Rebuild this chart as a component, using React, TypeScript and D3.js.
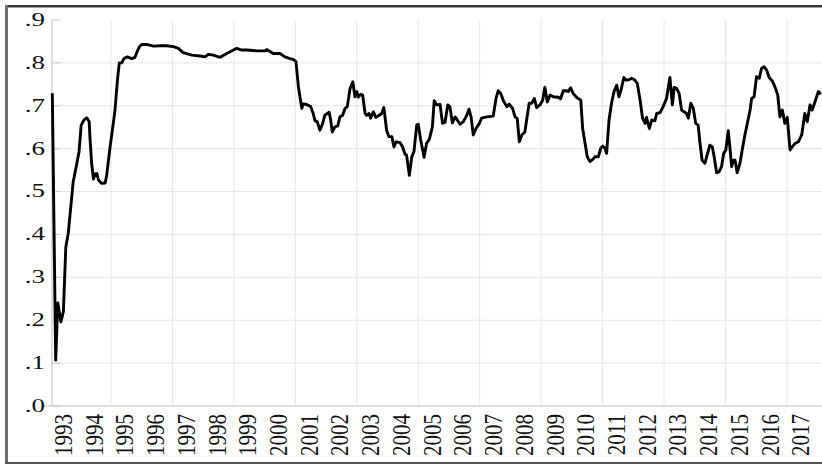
import React from "react";
import * as d3 from "d3";

// Decimal-year dates and values
const dates: number[] = [
  1993.09, 1993.2, 1993.27, 1993.37, 1993.45, 1993.53, 1993.61, 1993.77, 1993.89, 1993.96,
  1994.03, 1994.12, 1994.21, 1994.29, 1994.32, 1994.37, 1994.43, 1994.48, 1994.54, 1994.59,
  1994.7, 1994.81, 1994.86, 1994.97, 1995.06, 1995.13, 1995.21, 1995.27, 1995.35, 1995.42,
  1995.53, 1995.67, 1995.78, 1995.85, 1995.93, 1996.0, 1996.16, 1996.38, 1996.6, 1996.81,
  1997.03, 1997.19, 1997.35, 1997.63, 1997.9, 1998.06, 1998.17, 1998.33, 1998.55, 1998.77,
  1999.09, 1999.25, 1999.42, 1999.74, 2000.01, 2000.07, 2000.28, 2000.5, 2000.66, 2000.83,
  2000.93, 2001.02, 2001.1, 2001.21, 2001.26, 2001.37, 2001.5, 2001.58, 2001.64, 2001.71,
  2001.8, 2001.89, 2001.96, 2002.1, 2002.15, 2002.2, 2002.29, 2002.38, 2002.45, 2002.54,
  2002.62, 2002.69, 2002.78, 2002.87, 2002.94, 2003.0, 2003.05, 2003.13, 2003.19, 2003.27,
  2003.32, 2003.4, 2003.45, 2003.54, 2003.62, 2003.73, 2003.81, 2003.88, 2003.97, 2004.05,
  2004.14, 2004.21, 2004.28, 2004.41, 2004.49, 2004.57, 2004.62, 2004.71, 2004.79, 2004.86,
  2004.95, 2005.0, 2005.08, 2005.19, 2005.27, 2005.36, 2005.46, 2005.52, 2005.6, 2005.71,
  2005.79, 2005.87, 2005.96, 2006.03, 2006.11, 2006.2, 2006.27, 2006.36, 2006.47, 2006.58,
  2006.65, 2006.72, 2006.79, 2006.88, 2006.99, 2007.06, 2007.23, 2007.44, 2007.53, 2007.6,
  2007.68, 2007.77, 2007.88, 2007.96, 2008.07, 2008.15, 2008.22, 2008.29, 2008.37, 2008.47,
  2008.55, 2008.61, 2008.69, 2008.78, 2008.85, 2008.96, 2009.05, 2009.12, 2009.2, 2009.29,
  2009.39, 2009.56, 2009.63, 2009.72, 2009.83, 2009.88, 2009.96, 2010.04, 2010.15, 2010.29,
  2010.35, 2010.43, 2010.5, 2010.59, 2010.68, 2010.75, 2010.86, 2010.94, 2011.0, 2011.08,
  2011.13, 2011.21, 2011.29, 2011.37, 2011.46, 2011.53, 2011.6, 2011.69, 2011.76, 2011.83,
  2011.95, 2012.05, 2012.13, 2012.22, 2012.3, 2012.38, 2012.43, 2012.52, 2012.6, 2012.7,
  2012.76, 2012.87, 2012.97, 2013.08, 2013.19, 2013.27, 2013.33, 2013.41, 2013.49, 2013.57,
  2013.65, 2013.73, 2013.79, 2013.87, 2013.95, 2014.03, 2014.11, 2014.17, 2014.24, 2014.33,
  2014.4, 2014.49, 2014.57, 2014.63, 2014.71, 2014.79, 2014.87, 2014.94, 2015.01, 2015.09,
  2015.14, 2015.2, 2015.25, 2015.31, 2015.38, 2015.47, 2015.56, 2015.63, 2015.71, 2015.8,
  2015.85, 2015.93, 2016.01, 2016.1, 2016.17, 2016.25, 2016.34, 2016.42, 2016.52, 2016.61,
  2016.7, 2016.77, 2016.85, 2016.93, 2017.01, 2017.1, 2017.17, 2017.26, 2017.37, 2017.48,
  2017.58, 2017.66, 2017.75, 2017.82, 2017.91, 2018.02, 2018.1,
];

const values: number[] = [
  0.729, 0.107, 0.24, 0.196, 0.22, 0.371, 0.403, 0.523, 0.566, 0.593,
  0.655, 0.667, 0.672, 0.663, 0.62, 0.566, 0.529, 0.541, 0.542, 0.527,
  0.519, 0.52, 0.538, 0.604, 0.651, 0.69, 0.76, 0.8, 0.8, 0.81,
  0.814, 0.81, 0.813, 0.826, 0.838, 0.843, 0.843, 0.839, 0.84, 0.84,
  0.838, 0.834, 0.824, 0.818, 0.816, 0.814, 0.82, 0.818, 0.813, 0.822,
  0.834, 0.83, 0.83, 0.828, 0.828, 0.831, 0.822, 0.822, 0.814, 0.81,
  0.808, 0.803, 0.744, 0.694, 0.704, 0.703, 0.698, 0.682, 0.665, 0.663,
  0.643, 0.659, 0.678, 0.685, 0.667, 0.639, 0.651, 0.653, 0.674, 0.678,
  0.694, 0.698, 0.74, 0.756, 0.721, 0.733, 0.72, 0.727, 0.725, 0.682,
  0.678, 0.682, 0.671, 0.686, 0.673, 0.678, 0.682, 0.696, 0.643, 0.628,
  0.628, 0.604, 0.616, 0.614, 0.604, 0.587, 0.585, 0.538, 0.581, 0.593,
  0.655, 0.657, 0.62, 0.58, 0.612, 0.622, 0.651, 0.712, 0.702, 0.703,
  0.659, 0.661, 0.702, 0.698, 0.66, 0.674, 0.667, 0.657, 0.663, 0.678,
  0.692, 0.674, 0.632, 0.647, 0.659, 0.671, 0.674, 0.676, 0.717, 0.735,
  0.729, 0.712, 0.698, 0.704, 0.694, 0.674, 0.671, 0.616, 0.632, 0.639,
  0.678, 0.706, 0.706, 0.717, 0.696, 0.702, 0.713, 0.743, 0.709, 0.725,
  0.721, 0.72, 0.716, 0.735, 0.735, 0.733, 0.742, 0.729, 0.72, 0.713,
  0.647, 0.612, 0.581, 0.57, 0.575, 0.581, 0.581, 0.601, 0.606, 0.601,
  0.589, 0.667, 0.706, 0.733, 0.748, 0.721, 0.737, 0.766, 0.76, 0.76,
  0.764, 0.76, 0.752, 0.713, 0.671, 0.659, 0.673, 0.647, 0.667, 0.665,
  0.682, 0.684, 0.698, 0.717, 0.766, 0.702, 0.743, 0.74, 0.729, 0.69,
  0.686, 0.682, 0.671, 0.706, 0.694, 0.659, 0.655, 0.612, 0.573, 0.566,
  0.585, 0.608, 0.604, 0.581, 0.544, 0.546, 0.558, 0.589, 0.597, 0.642,
  0.604, 0.558, 0.573, 0.573, 0.544, 0.566, 0.604, 0.632, 0.659, 0.69,
  0.717, 0.721, 0.768, 0.764, 0.787, 0.791, 0.783, 0.766, 0.758, 0.744,
  0.725, 0.674, 0.69, 0.659, 0.673, 0.597, 0.604, 0.612, 0.616, 0.632,
  0.682, 0.663, 0.702, 0.69, 0.709, 0.733, 0.727,
];

const yearLabels: number[] = d3.range(1993, 2018);
const gridYears: number[] = [1995, 1997, 1999, 2001, 2003, 2005, 2007, 2009, 2011, 2013, 2015, 2017];
const yTicks: number[] = [0, 0.1, 0.2, 0.3, 0.4, 0.5, 0.6, 0.7, 0.8, 0.9];
const yTickLabels: string[] = [".0", ".1", ".2", ".3", ".4", ".5", ".6", ".7", ".8", ".9"];

const W = 822;
const H = 465;
const left = 52;
const right = 822;
const top = 20;
const bottom = 406;

export default function App() {
  const x = d3.scaleLinear().domain([1993.08, 2018.14]).range([left, right]);
  const y = d3.scaleLinear().domain([0, 0.9]).range([bottom, top]);
  const pts: [number, number][] = dates.map((d, i) => [d, values[i]]);
  const line = d3
    .line<[number, number]>()
    .x((d) => x(d[0]))
    .y((d) => y(d[1]))
    .curve(d3.curveLinear);

  const font = "Liberation Serif, Times New Roman, Times, serif";

  return (
    <svg
      width={W}
      height={H}
      style={{ position: "absolute", left: 0, top: 0, background: "#fff" }}
    >
      <rect x={0} y={0} width={W} height={H} fill="#fff" />
      {/* frame */}
      <rect x={5} y={5} width={W - 5} height={2.5} fill="#3c3c3c" />
      <rect x={5} y={5} width={3} height={459} fill="#6e6e6e" />
      <rect x={5} y={462} width={W - 5} height={2} fill="#555" />

      {/* horizontal grid */}
      {yTicks.slice(1, 9).map((t) => (
        <line key={"h" + t} x1={left} x2={right} y1={y(t)} y2={y(t)} stroke="#e6e6e6" strokeWidth={1} />
      ))}
      {/* vertical grid */}
      {gridYears.map((g) => (
        <line key={"v" + g} x1={x(g)} x2={x(g)} y1={top} y2={bottom} stroke="#e6e6e6" strokeWidth={1} />
      ))}
      {/* y tick marks */}
      {yTicks.map((t) => (
        <line key={"t" + t} x1={left} x2={left + 8} y1={y(t)} y2={y(t)} stroke="#c8c8c8" strokeWidth={1} />
      ))}
      {/* axes */}
      <line x1={left} x2={left} y1={top} y2={bottom} stroke="#c8c8c8" strokeWidth={1.2} />
      <line x1={43} x2={right} y1={bottom} y2={bottom} stroke="#c0c0c0" strokeWidth={1.2} />

      {/* y labels */}
      {yTicks.map((t, i) => (
        <text
          key={"yl" + t}
          transform={`translate(45,${y(t)}) scale(1.5,1)`}
          textAnchor="end"
          dominantBaseline="central"
          style={{ fontFamily: font, fontSize: "18px" }}
          fill="#111"
        >
          {yTickLabels[i]}
        </text>
      ))}

      {/* x labels */}
      {yearLabels.map((yr) => (
        <text
          key={"xl" + yr}
          transform={`translate(${x(yr + 0.5) - 1},414) rotate(-90) scale(1,1.15)`}
          textAnchor="end"
          dominantBaseline="central"
          style={{ fontFamily: font, fontSize: "21px" }}
          fill="#111"
        >
          {yr}
        </text>
      ))}

      <path d={line(pts) || ""} fill="none" stroke="#000" strokeWidth={2.9} strokeLinejoin="round" />
    </svg>
  );
}
